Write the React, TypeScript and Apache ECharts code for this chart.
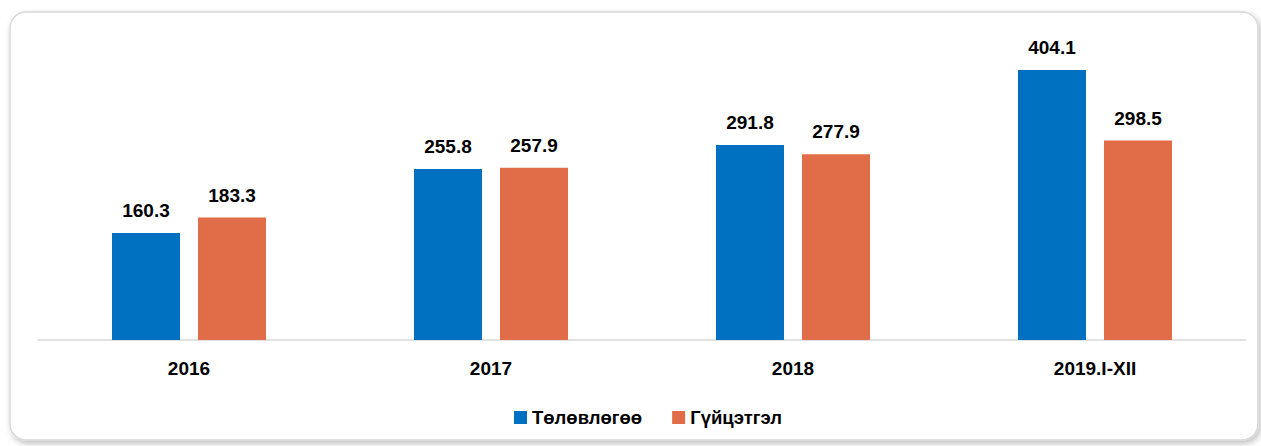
import React, { useEffect, useRef } from "react";
import * as echarts from "echarts";

const categories = ["2016", "2017", "2018", "2019.I-XII"];
const planValues = [160.3, 255.8, 291.8, 404.1];
const actualValues = [183.3, 257.9, 277.9, 298.5];
const seriesNames = ["Төлөвлөгөө", "Гүйцэтгэл"];

export default function App() {
  const ref = useRef<HTMLDivElement>(null);
  useEffect(() => {
    const chart = echarts.init(ref.current!, null, { renderer: "svg" });
    const font = "'Liberation Sans', Arial, sans-serif";
    const label = {
      show: true,
      position: "top",
      distance: 13,
      fontFamily: font,
      fontWeight: "bold",
      fontSize: 19,
      color: "#000",
    };
    chart.setOption({
      animation: false,
      backgroundColor: "#fff",
      graphic: [
        {
          type: "rect",
          shape: { x: 10, y: 12, width: 1248, height: 428, r: 16 },
          style: {
            fill: "#fff",
            stroke: "#d9d9d9",
            lineWidth: 1.5,
            shadowBlur: 6,
            shadowOffsetX: 2,
            shadowOffsetY: 3,
            shadowColor: "rgba(0,0,0,0.25)",
          },
          z: -10,
          silent: true,
        },
      ],
      grid: { left: 38, right: 15, top: 39.3, bottom: 106, containLabel: false },
      legend: {
        bottom: 14,
        left: 509,
        itemWidth: 13,
        itemHeight: 13,
        itemGap: 30,
        icon: "rect",
        textStyle: { fontFamily: font, fontWeight: "bold", fontSize: 18.5, color: "#000" },
        data: seriesNames,
      },
      xAxis: {
        type: "category",
        data: categories,
        axisLine: { show: true, lineStyle: { color: "#d9d9d9", width: 1.5 } },
        axisTick: { show: false },
        axisLabel: {
          margin: 19,
          fontFamily: font,
          fontWeight: "bold",
          fontSize: 19,
          color: "#000",
        },
      },
      yAxis: {
        type: "value",
        min: 0,
        max: 450,
        show: false,
        splitLine: { show: false },
      },
      series: [
        {
          name: seriesNames[0],
          type: "bar",
          data: planValues,
          barWidth: 68,
          barGap: "26.5%",
          itemStyle: { color: "#0070C0" },
          label,
        },
        {
          name: seriesNames[1],
          type: "bar",
          data: actualValues,
          barWidth: 68,
          itemStyle: { color: "#E06D47" },
          label,
        },
      ],
    });
    return () => chart.dispose();
  }, []);
  return (
    <div
      ref={ref}
      style={{ position: "fixed", left: 0, top: 0, width: 1261, height: 446 }}
    />
  );
}
